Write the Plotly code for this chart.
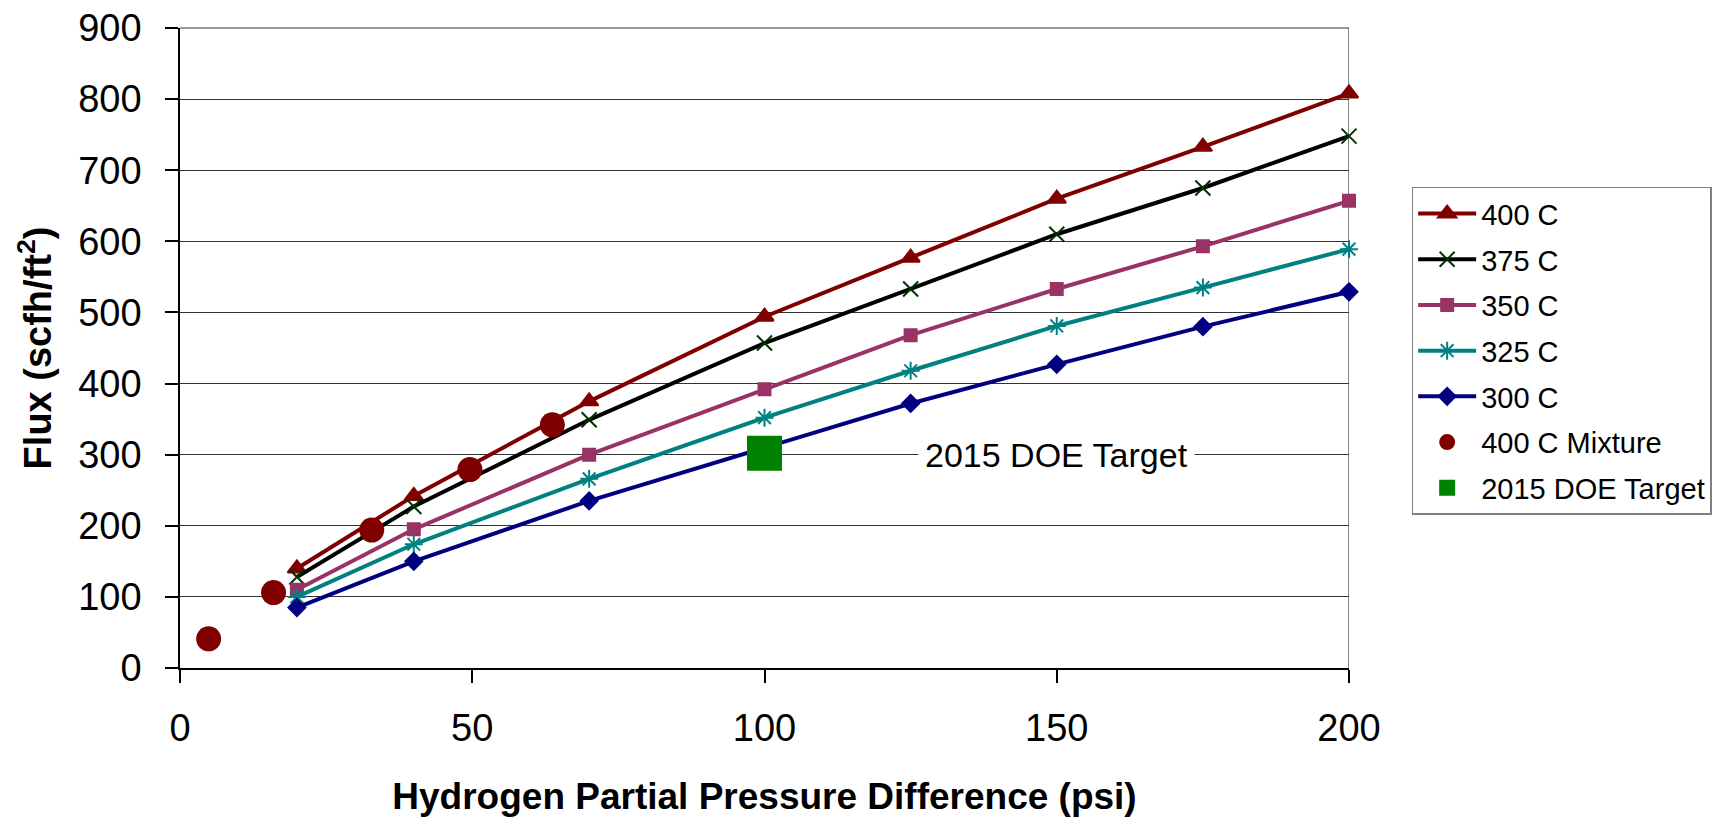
import plotly.graph_objects as go

# pressure difference (psi) for the temperature series
pressure = [20, 40, 70, 100, 125, 150, 175, 200]

flux_400 = [140, 242, 375, 494, 577, 660, 733, 808]
flux_375 = [128, 227, 349, 457, 533, 610, 675, 748]
flux_350 = [110, 195, 300, 392, 468, 533, 593, 657]
flux_325 = [100, 174, 266, 352, 418, 481, 535, 589]
flux_300 = [85, 150, 235, 310, 372, 427, 480, 529]

# 400 C mixture measurements
mix_pressure = [4.9, 16.0, 32.8, 49.6, 63.7]
mix_flux = [41, 106, 194, 279, 342]

# DOE target point
target_pressure = [100]
target_flux = [302]
target_label = "2015 DOE Target"

FONT = "Liberation Sans, Arial, sans-serif"

fig = go.Figure()

# (name, values, line colour, marker symbol, marker colour, marker size)
series = [
    ("400 C", flux_400, "#800000", "triangle-up", "#800000", 16),
    ("375 C", flux_375, "#000000", "x-thin", "#003300", 15),
    ("350 C", flux_350, "#993366", "square", "#993366", 12),
    ("325 C", flux_325, "#008080", "asterisk", "#008080", 15),
    ("300 C", flux_300, "#000080", "diamond", "#000080", 13),
]

for i, (name, vals, lc, sym, mc, ms) in enumerate(series):
    fig.add_trace(go.Scatter(
        x=pressure, y=vals, name=name, mode="lines+markers",
        line=dict(color=lc, width=4),
        marker=dict(symbol=sym, color=mc, size=ms, line=dict(color=mc, width=2)),
        cliponaxis=False, legendgroup=str(i),
    ))

fig.add_trace(go.Scatter(
    x=mix_pressure, y=mix_flux, name="400 C Mixture", mode="markers",
    marker=dict(symbol="circle", color="#800000", size=25),
    cliponaxis=False, legendgroup="5",
))

fig.add_trace(go.Scatter(
    x=target_pressure, y=target_flux, name=target_label, mode="markers",
    marker=dict(symbol="square", color="#008000", size=35),
    cliponaxis=False, legendgroup="6",
))

fig.add_annotation(
    x=150, y=300, text=target_label, showarrow=False,
    font=dict(family=FONT, size=34, color="black"),
    bgcolor="white", borderpad=6,
)

# right edge of the plot area
fig.add_shape(type="line", x0=200, x1=200, y0=0, y1=900, xref="x", yref="y",
              line=dict(color="#888888", width=2), layer="below")
# top gridline at 900 (plotly drops it at the range edge)
fig.add_shape(type="line", x0=0, x1=1, y0=1, y1=1, xref="paper", yref="paper",
              line=dict(color="#333333", width=1.2), layer="above")

# page body adds 8px around the figure
fig.update_layout(
    width=1718, height=809,
    margin=dict(l=172, r=377, t=20, b=149),
    paper_bgcolor="white", plot_bgcolor="white",
    font=dict(family=FONT, color="black"),
    legend=dict(
        x=1.0536, y=0.752, xanchor="left", yanchor="top",
        font=dict(family=FONT, size=29, color="black"),
        bordercolor="#808080", borderwidth=1.5,
        itemwidth=58, tracegroupgap=5,
    ),
    showlegend=True,
)

fig.update_xaxes(
    range=[0, 200], tickvals=[0, 50, 100, 150, 200],
    showgrid=False, zeroline=False, automargin=False,
    showline=True, linecolor="black", linewidth=1.5,
    ticks="outside", ticklen=13, tickcolor="black", tickwidth=1.5,
    ticklabelstandoff=13, ticklabeloverflow="allow",
    tickfont=dict(family=FONT, size=38, color="black"),
    title=dict(text="<b>Hydrogen Partial Pressure Difference (psi)</b>",
               font=dict(family=FONT, size=37, color="black"), standoff=36),
)

fig.update_yaxes(
    range=[0, 900], dtick=100, automargin=False,
    showgrid=True, gridcolor="#333333", gridwidth=1.2, zeroline=False,
    showline=True, linecolor="black", linewidth=1.5,
    ticks="outside", ticklen=13, tickcolor="black", tickwidth=1.5,
    ticklabelstandoff=16, ticklabeloverflow="allow",
    tickfont=dict(family=FONT, size=38, color="black"),
    title=dict(text="<b>Flux (scfh/ft<sup>2</sup>)</b>",
               font=dict(family=FONT, size=38, color="black"), standoff=15),
)

fig.write_html("out.html")
